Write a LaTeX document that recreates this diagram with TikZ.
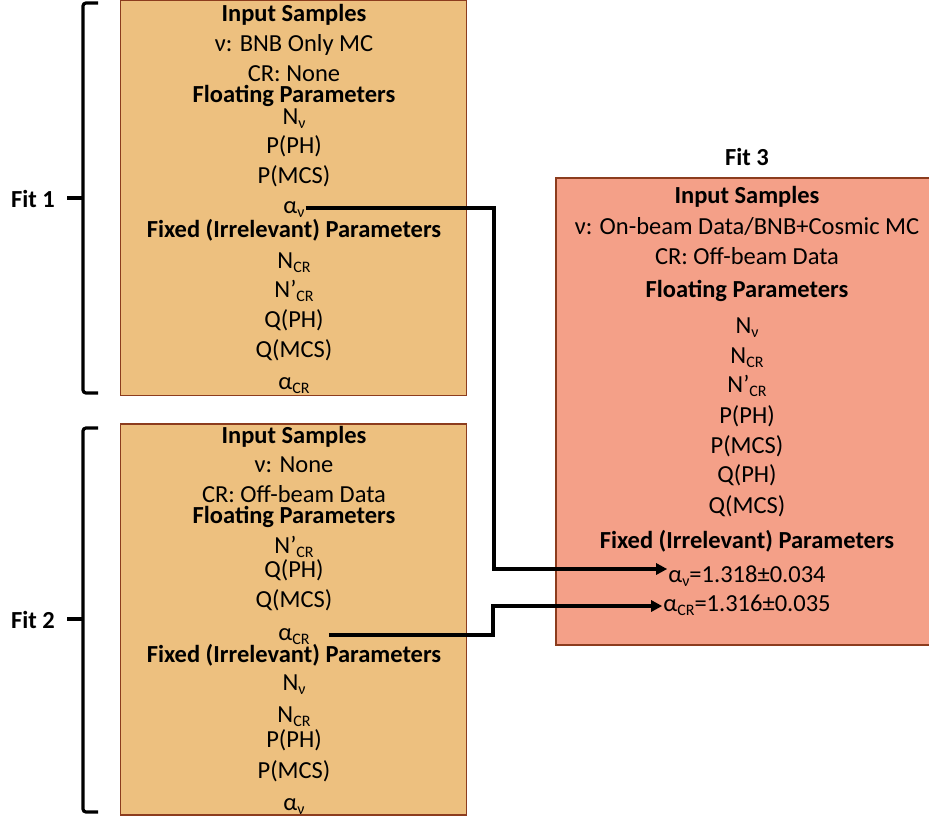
\documentclass[tikz,border=0pt]{standalone}
\usepackage{fontspec}
\setmainfont{Carlito}
\usetikzlibrary{arrows.meta}
\definecolor{fitorange}{RGB}{237,192,127}
\definecolor{fitsalmon}{RGB}{244,160,136}
\definecolor{fitedge}{RGB}{140,60,30}
\newcommand{\sbs}[1]{\raisebox{-4.5pt}{\fontsize{16}{16}\selectfont #1}}
\tikzset{
  tx/.style={anchor=base, inner sep=1pt, font=\fontsize{24.5}{29}\selectfont},
  orbox/.style={draw=fitedge, fill=fitorange, line width=1.8pt, inner sep=0pt},
  redbox/.style={draw=fitedge, fill=fitsalmon, line width=1.8pt, inner sep=0pt},
  arr/.style={line width=3.2pt, -{Triangle[length=11pt,width=11pt]}},
  brc/.style={line width=3.2pt, rounded corners=3pt}
}

\begin{document}
\begin{tikzpicture}[x=1pt,y=-1pt]
\useasboundingbox (0,0) rectangle (929,820);

%boxes
\node (box1) at (293.5,198) [orbox, minimum width=346, minimum height=395] {};
\node (box2) at (293.5,619.75) [orbox, minimum width=346, minimum height=391] {};
\node (box3) at (748,411.5) [redbox, minimum width=384, minimum height=467] {};

%fit 1
\foreach \y/\t [count=\i] in {21/{\bfseries Input Samples}, 51/{ν: BNB Only MC},
  81/{CR: None}, 102/{\bfseries Floating Parameters}, 124/{N\sbs{ν}},
  153/{P(PH)}, 183/{P(MCS)}, 213/{α\sbs{ν}}, 237/{\bfseries Fixed (Irrelevant) Parameters},
  268/{N\sbs{CR}}, 297/{N’\sbs{CR}}, 327/{Q(PH)}, 357/{Q(MCS)}, 389/{α\sbs{CR}}}
  \node[tx] (a\i) at (294,\y) {\t};

%fit 2
\foreach \y/\t [count=\i] in {443/{\bfseries Input Samples}, 472/{ν: None},
  502/{CR: Off-beam Data}, 523/{\bfseries Floating Parameters}, 553/{N’\sbs{CR}},
  577/{Q(PH)}, 607/{Q(MCS)}, 640/{α\sbs{CR}}, 662/{\bfseries Fixed (Irrelevant) Parameters},
  690/{N\sbs{ν}}, 722/{N\sbs{CR}}, 747/{P(PH)}, 778/{P(MCS)}, 810/{α\sbs{ν}}}
  \node[tx] (b\i) at (294,\y) {\t};

%fit 3
\node[tx, font=\fontsize{24.5}{29}\selectfont\bfseries] (fit3) at (747,165) {Fit 3};
\foreach \y/\t [count=\i] in {203/{\bfseries Input Samples}, 234/{ν: On-beam Data/BNB+Cosmic MC},
  264/{CR: Off-beam Data}, 297/{\bfseries Floating Parameters}, 333/{N\sbs{ν}},
  363/{N\sbs{CR}}, 392/{N’\sbs{CR}}, 423/{P(PH)}, 453/{P(MCS)}, 482/{Q(PH)},
  513/{Q(MCS)}, 548/{\bfseries Fixed (Irrelevant) Parameters},
  582/{α\sbs{ν}=1.318±0.034}, 611/{α\sbs{CR}=1.316±0.035}}
  \node[tx] (c\i) at (747,\y) {\t};

%braces
\node[tx, font=\fontsize{24.5}{29}\selectfont\bfseries] (fit1) at (33,207) {Fit 1};
\node[tx, font=\fontsize{24.5}{29}\selectfont\bfseries] (fit2) at (33,628) {Fit 2};
\draw[brc] (98,3) -- (83,3) -- (83,393) -- (98,393);
\draw[line width=3.2pt] (83,198) -- (67,198);
\draw[brc] (98,428) -- (83,428) -- (83,812) -- (98,812);
\draw[line width=3.2pt] (83,619) -- (67,619);

%links
\coordinate (k1) at (494,569);
\coordinate (k2) at (493,606);
\draw[arr] ([yshift=5pt]a8.base east) -| (k1) -- (c13.west |- k1);
\draw[arr] ([xshift=18pt,yshift=5pt]b8.base east) -| (k2) -- (c14.west |- k2);

\end{tikzpicture}
\end{document}
